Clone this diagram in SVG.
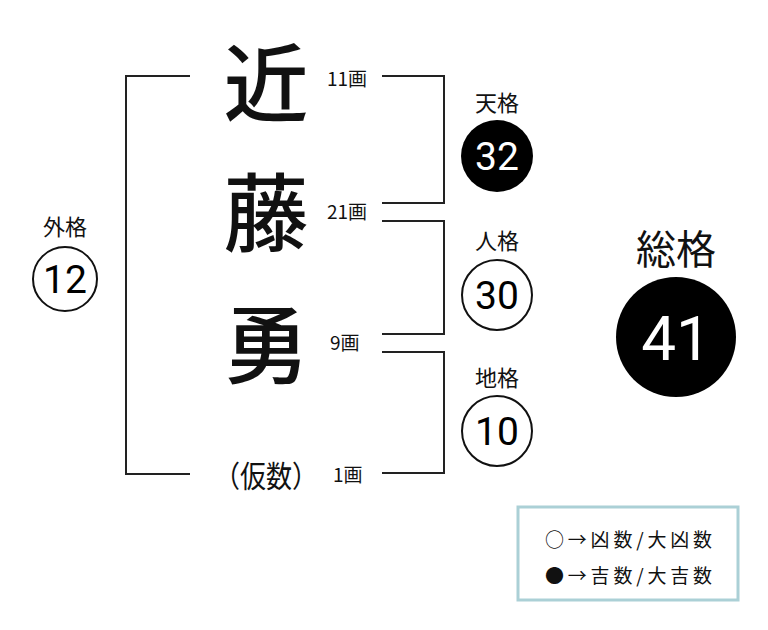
<svg xmlns="http://www.w3.org/2000/svg" width="768" height="630" viewBox="0 0 768 630">
<style>
.ln{fill:none;stroke:#222;stroke-width:2}
.jp{font-family:"Noto Sans CJK JP","Noto Sans",sans-serif;fill:#111}
.big{font-size:85px;font-weight:500;text-anchor:middle}
.st{font-size:19px}
.lab{font-size:22px;text-anchor:middle}
.num{font-family:Roboto,"Noto Sans",sans-serif;font-size:39px;text-anchor:middle}
.wc{fill:#fff;stroke:#111;stroke-width:2}
.bc{fill:#000}
</style>
<rect width="768" height="630" fill="#fff"/>
<g id="connectors">
<polyline class="ln" points="190,76 126,76 126,474 190,474"/>
<polyline class="ln" points="382,76 444,76 444,203 382,203"/>
<polyline class="ln" points="382,221 444,221 444,334 382,334"/>
<polyline class="ln" points="382,352 444,352 444,473 382,473"/>
</g>
<g id="name">
<text class="jp big" x="266" y="115">近</text>
<text class="jp big" x="266" y="245">藤</text>
<text class="jp big" x="266" y="377">勇</text>
<text class="jp" x="214" y="487" font-size="30" textLength="104" lengthAdjust="spacingAndGlyphs">（仮数）</text>
</g>
<g id="strokes">
<text class="jp st" x="327" y="86">11画</text>
<text class="jp st" x="327" y="219">21画</text>
<text class="jp st" x="330" y="350">9画</text>
<text class="jp st" x="333" y="482">1画</text>
</g>
<g id="gaikaku">
<text class="jp lab" x="65" y="235">外格</text>
<circle class="wc" cx="65" cy="279" r="32"/>
<text class="num" x="65" y="293">12</text>
</g>
<g id="tenkaku">
<text class="jp lab" x="497" y="111">天格</text>
<circle class="bc" cx="497" cy="156" r="36"/>
<text class="num" x="497" y="170" fill="#fff">32</text>
</g>
<g id="jinkaku">
<text class="jp lab" x="497" y="249">人格</text>
<circle class="wc" cx="497" cy="295" r="35"/>
<text class="num" x="497" y="309">30</text>
</g>
<g id="chikaku">
<text class="jp lab" x="497" y="386">地格</text>
<circle class="wc" cx="497" cy="431" r="35"/>
<text class="num" x="497" y="445">10</text>
</g>
<g id="soukaku">
<text class="jp" x="676" y="264" font-size="40" text-anchor="middle">総格</text>
<circle class="bc" cx="676" cy="337" r="60"/>
<text x="676" y="360" font-family="Roboto,'Noto Sans',sans-serif" font-size="62" text-anchor="middle" fill="#fff">41</text>
</g>
<g id="legend">
<rect x="518" y="507" width="220" height="93" fill="#fff" stroke="#abd0d6" stroke-width="3"/>
<text class="jp" x="545" y="547" font-size="19" textLength="167" lengthAdjust="spacing">○→凶数/大凶数</text>
<text class="jp" x="545" y="583" font-size="19" textLength="167" lengthAdjust="spacing">●→吉数/大吉数</text>
</g>
</svg>
